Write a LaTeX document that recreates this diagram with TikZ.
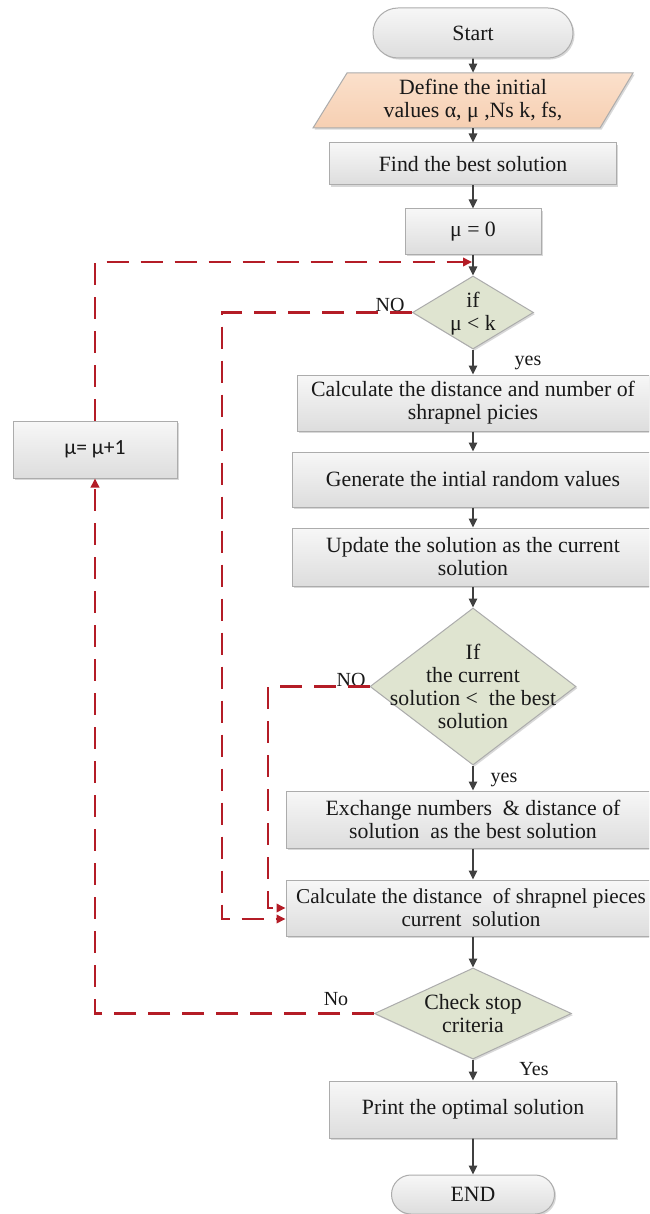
\documentclass[tikz,border=0pt]{standalone}
\usepackage{fontspec}
\setmainfont{Liberation Serif}
\newfontfamily\calib{Carlito}
\usetikzlibrary{arrows.meta,shapes.geometric,shapes.misc,shadows,calc}
\definecolor{boxline}{RGB}{172,172,172}
\definecolor{boxtop}{RGB}{247,247,247}
\definecolor{boxbot}{RGB}{221,221,221}
\definecolor{diafill}{RGB}{223,228,208}
\definecolor{paratop}{RGB}{251,224,203}
\definecolor{parabot}{RGB}{246,207,178}
\definecolor{arrcol}{RGB}{64,64,64}
\definecolor{redd}{RGB}{180,28,38}
\definecolor{txtcol}{RGB}{25,25,25}
\tikzset{
  base/.style={inner sep=0pt, text=txtcol, font=\fontsize{10.9pt}{11.5pt}\selectfont, align=center},
  shad/.style={drop shadow={shadow xshift=0.8pt,shadow yshift=-0.8pt,opacity=0.3}},
  procbox/.style={base, rectangle, draw=boxline, line width=0.5pt, top color=boxtop, bottom color=boxbot, shad},
  pill/.style={procbox, rounded rectangle},
  dia/.style={diamond, draw=boxline, fill=diafill, inner sep=0pt, line width=0.5pt, shad},
  txtonly/.style={base},
  arr/.style={draw=arrcol, line width=0.8pt, -{Triangle[length=4.5pt,width=4.2pt]}},
  back/.style={draw=redd, line width=1.1pt, dash pattern=on 11pt off 6pt, -{Triangle[length=4.5pt,width=4.2pt]}},
  lab/.style={inner sep=0pt, text=txtcol, font=\fontsize{10pt}{11pt}\selectfont},
}
\begin{document}
\begin{tikzpicture}[x=0.5pt,y=-0.5pt]
\useasboundingbox (0,0) rectangle (649,1214);
\fill[white] (0,0) rectangle (649,1214);
\clip (0,0) rectangle (649,1214);

% parallelogram outline
\path[draw=boxline, line width=0.5pt, top color=paratop, bottom color=parabot, shad]
  (347,73) -- (633,73) -- (600,128) -- (313,128) -- cycle;

\node[pill, minimum width=100pt, minimum height=25pt] (start) at (473,33) {Start};
\node[txtonly, minimum width=143.5pt, minimum height=27.5pt] (para) at (473,100.5) {Define the initial\\values α, μ ,Ns k, fs,};
\node[procbox, minimum width=143.5pt, minimum height=21pt] (best) at (473,164) {Find the best solution};
\node[procbox, minimum width=68pt, minimum height=22.5pt] (mu0) at (473,231.5) {μ = 0};
\node[dia, minimum width=60.5pt, minimum height=36.5pt] (d1) at (473,312.5) {};
\node[txtonly] (d1t) at (473,313.5) {if\\μ < k};
\node[procbox, minimum width=176pt, minimum height=28pt] (calc1) at (473,403) {Calculate the distance and number of\\shrapnel picies};
\node[procbox, minimum width=181pt, minimum height=27.5pt] (gen) at (473,479.5) {Generate the intial random values};
\node[procbox, minimum width=181pt, minimum height=29pt] (upd) at (473,557) {Update the solution as the current\\solution};
\node[dia, minimum width=103pt, minimum height=78.5pt] (d2) at (473,686.5) {};
\node[txtonly] (d2t) at (473,686.5) {If\\the current\\solution <\ \ the best\\solution};
\node[procbox, minimum width=187pt, minimum height=28.5pt] (exch) at (473,819.5) {Exchange numbers\ \ \& distance of\\solution\ \ as the best solution};
\node[procbox, minimum width=187pt, minimum height=28pt] (calc2) at (473,908) {};
\node[txtonly, font=\fontsize{10.6pt}{11.5pt}\selectfont] (calc2t) at (471,908) {Calculate the distance\ \ of shrapnel pieces\\current\ \ solution};
\node[dia, minimum width=98.5pt, minimum height=45.5pt] (d3) at (473,1013.5) {};
\node[txtonly] (d3t) at (473,1014) {Check stop\\criteria};
\node[procbox, minimum width=143.5pt, minimum height=28.5pt] (print) at (473,1109.5) {Print the optimal solution};
\node[pill, minimum width=81.5pt, minimum height=19.5pt] (end) at (473,1194.5) {END};
\node[procbox, minimum width=82pt, minimum height=28.5pt, font=\calib\fontsize{10.8pt}{12pt}\selectfont] (mu1) at (95,449.5) {μ= μ+1};

% labels
\node[lab] (no1) at (390,305) {NO};
\node[lab] (no2) at (351,680) {NO};
\node[lab] (no3) at (336,999) {No};
\node[lab] (yes1) at (528,363) {yes};
\node[lab] (yes2) at (504,780) {yes};
\node[lab] (yes3) at (534,1069) {Yes};

% solid flow
\draw[arr] (start) -- (para);
\draw[arr] (para) -- (best);
\draw[arr] (best) -- (mu0);
\draw[arr] (mu0) -- (d1);
\draw[arr] (d1) -- (calc1);
\draw[arr] (calc1) -- (gen);
\draw[arr] (gen) -- (upd);
\draw[arr] (upd) -- (d2);
\draw[arr] (d2) -- (exch);
\draw[arr] (exch) -- (calc2);
\draw[arr] (calc2) -- (d3);
\draw[arr] (d3) -- (print);
\draw[arr] (print) -- (end);

% dashed returns
\coordinate (j1) at (472,262);
\coordinate (c1) at (222,919);
\coordinate (c2) at (268,908);
\draw[back] (mu1.north) |- (j1);
\draw[back] (d1.west) -| (c1) -- (c1 -| calc2.west);
\draw[back] (d2.west) -| (c2) -- (c2 -| calc2.west);
\draw[back] (d3.west) -| (mu1.south);
\end{tikzpicture}
\end{document}
